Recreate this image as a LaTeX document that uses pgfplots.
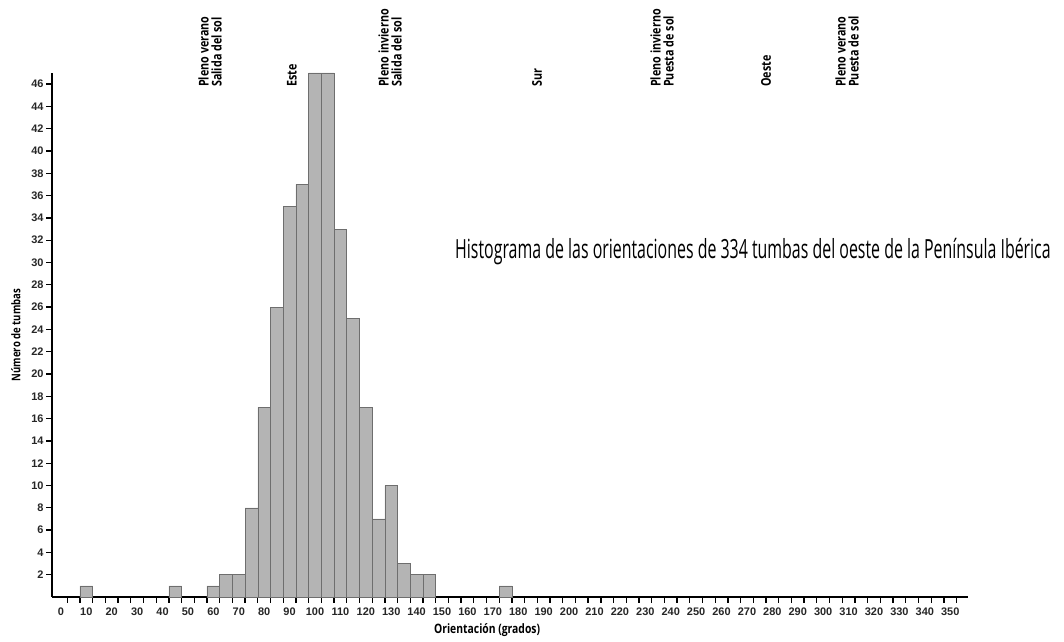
\documentclass[border=0pt]{standalone}
\usepackage{pgfplots}
\pgfplotsset{compat=1.18}
\usepackage{fontspec}
\setmainfont{Liberation Sans}
\newfontfamily\osc[FakeStretch=0.8]{Open Sans}
\newfontfamily\ostitle[FakeStretch=0.603]{Open Sans}
\definecolor{barfill}{RGB}{180,180,180}
\definecolor{baredge}{RGB}{110,110,110}
\begin{document}
\begin{tikzpicture}[x=1bp,y=1bp]
\useasboundingbox (0,0) rectangle (1064,642);
\begin{axis}[
  at={(52bp,45bp)}, anchor=south west,
  scale only axis, width=916bp, height=524bp,
  xmin=-3.5, xmax=357, ymin=0, ymax=47,
  axis lines*=left,
  axis line style={line width=2.4bp, black},
  xtick={0,10,...,350},
  major x tick style={draw=none},
  minor xtick={2.5,7.5,...,352.5},
  ytick={2,4,...,46},
  tick align=outside,
  tick style={black, line width=1.3bp},
  major tick length=6bp, minor tick length=6bp,
  /pgf/number format/assume math mode=true,
  ticklabel style={font=\fontsize{11}{12}\selectfont\bfseries, text=black!85},
  xticklabel style={yshift=-1bp},
  yticklabel style={xshift=1bp},
  xlabel={\osc\bfseries Orientación (grados)},
  xlabel style={at={(axis description cs:0.475,0)}, anchor=north, yshift=-23bp, font=\fontsize{13}{14}\selectfont},
  ylabel={\osc\bfseries Número de tumbas},
  ylabel style={at={(axis description cs:0,0.5)}, anchor=south, yshift=28bp, font=\fontsize{12}{13}\selectfont},
  clip=false,
]
\addplot[ybar, bar width=5, bar shift=0pt, fill=barfill, draw=baredge, line width=0.6bp]
coordinates {
(10,1) (45,1) (60,1) (65,2) (70,2) (75,8) (80,17) (85,26) (90,35) (95,37)
(100,47) (105,47) (110,33) (115,25) (120,17) (125,7) (130,10) (135,3)
(140,2) (145,2) (175,1)
};
\end{axis}
\begin{scope}[every node/.style={rotate=90, anchor=west, align=left, inner sep=0pt, font=\osc\bfseries\fontsize{13.5}{13}\selectfont}]
\node at (210,555) {Pleno verano\\Salida del sol};
\node at (292,555) {Este};
\node at (390,555) {Pleno invierno\\Salida del sol};
\node at (537,555) {Sur};
\node at (662,555) {Pleno invierno\\Puesta de sol};
\node at (766,555) {Oeste};
\node at (847,555) {Pleno verano\\Puesta de sol};
\end{scope}
\node[anchor=west, inner sep=0pt, font=\ostitle\fontsize{26.5}{28}\selectfont] at (455,390) {Histograma de las orientaciones de 334 tumbas del oeste de la Península Ibérica};
\end{tikzpicture}
\end{document}
